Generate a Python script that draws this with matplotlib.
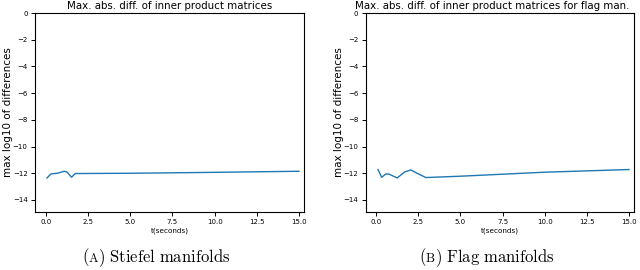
import matplotlib
matplotlib.use("Agg")
import matplotlib.pyplot as plt

# Data
t_stiefel = [0.06, 0.3, 0.67, 1.08, 1.24, 1.52, 1.73, 5.0, 10.0, 15.0]
d_stiefel = [-12.35, -12.05, -12.0, -11.85, -11.9, -12.3, -12.02, -12.0, -11.93, -11.85]

t_flag = [0.1, 0.32, 0.57, 0.77, 1.24, 1.69, 2.05, 2.5, 2.95, 5.0, 7.5, 10.0, 15.0]
d_flag = [-11.72, -12.3, -12.05, -12.07, -12.35, -11.9, -11.75, -12.05, -12.32,
          -12.22, -12.07, -11.92, -11.72]

xticks = [0.0, 2.5, 5.0, 7.5, 10.0, 12.5, 15.0]
yticks = [0, -2, -4, -6, -8, -10, -12, -14]

titles = ["Max. abs. diff. of inner product matrices",
          "Max. abs. diff. of inner product matrices for flag man."]
ylabel = "max log10 of differences"
xlabel = "t(seconds)"
caption_letters = ["A", "B"]
caption_texts = ["Stiefel manifolds", "Flag manifolds"]

plt.rcParams['mathtext.fontset'] = 'cm'

W, H = 640, 270
fig = plt.figure(figsize=(6.4, 2.7), dpi=100)

def ax_rect(l, r, t, b):
    return [l / W, 1 - b / H, (r - l) / W, (b - t) / H]

ax1 = fig.add_axes(ax_rect(35, 304, 13, 212))
ax2 = fig.add_axes(ax_rect(366, 634, 13, 212))

configs = [
    (ax1, t_stiefel, d_stiefel, titles[0], (-0.65, 15.3), 0.5),
    (ax2, t_flag, d_flag, titles[1], (-0.61, 15.3), 0.469),
]

for ax, t, d, title, xl, tx in configs:
    ax.plot(t, d, color='#1f77b4', lw=1.0)
    ax.set_xlim(*xl)
    ax.set_ylim(-14.9, 0)
    ax.set_xticks(xticks)
    ax.set_yticks(yticks)
    ax.tick_params(labelsize=5, length=2.8, pad=2.6, width=0.7)
    ax.set_title(title, fontsize=7.4, pad=3.0, x=tx)
    ax.set_ylabel(ylabel, fontsize=7.5)
    ax.yaxis.set_label_coords(-0.083, 0.5)
    ax.set_xlabel(xlabel, fontsize=5.2, labelpad=1.5)
    for s in ax.spines.values():
        s.set_linewidth(0.8)

# Captions with small-caps letter
cap_y = 1 - 262 / H
starts = [82 / W, 419 / W]
for x0, letter, txt in zip(starts, caption_letters, caption_texts):
    t1 = fig.text(x0, cap_y, r'$\mathrm{(}$', fontsize=12, va='baseline', ha='left')
    t2 = ax1.annotate(r'$\mathrm{' + letter + '}$', xy=(1, cap_y),
                      xycoords=(t1, 'figure fraction'), xytext=(-0.8, 0),
                      textcoords='offset points', fontsize=9.2,
                      va='baseline', ha='left', annotation_clip=False)
    ax1.annotate(r'$\mathrm{)\ ' + txt.replace(' ', r'\ ') + '}$', xy=(1, cap_y),
                 xycoords=(t2, 'figure fraction'), xytext=(-0.8, 0),
                 textcoords='offset points', fontsize=12,
                 va='baseline', ha='left', annotation_clip=False)

fig.savefig("out.png", dpi=100)
